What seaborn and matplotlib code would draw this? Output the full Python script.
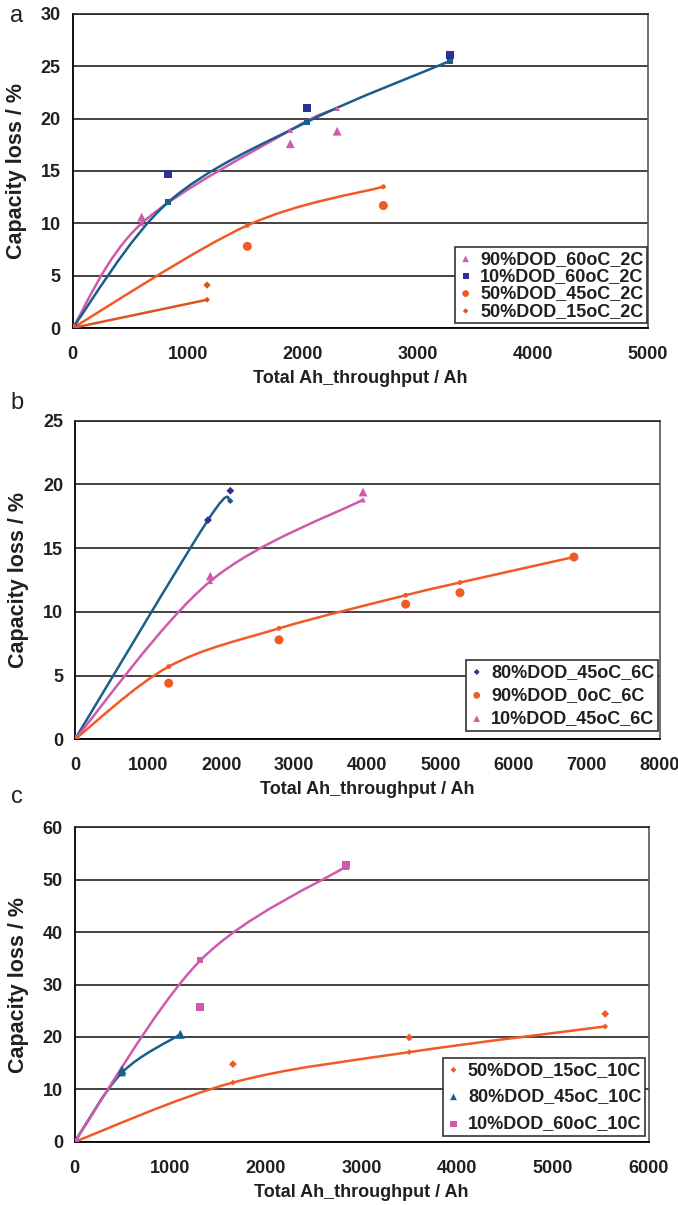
import numpy as np
import matplotlib
matplotlib.use("Agg")
import matplotlib.pyplot as plt
from matplotlib.path import Path
from matplotlib.patches import PathPatch
import seaborn as sns

# ---- panel a : 2C ----
a_90_x = [0, 600, 1893, 2300]
a_90_meas = [0, 10.6, 17.6, 18.8]
a_90_model = [0, 10.0, 18.9, 21.0]

a_10_x = [0, 829, 2041, 3280]
a_10_meas = [0, 14.7, 21.0, 26.1]
a_10_model = [0, 12.0, 19.7, 25.5]

a_45_x = [0, 1519, 2702]
a_45_meas = [0, 7.8, 11.7]
a_45_model = [0, 9.8, 13.5]

a_15_x = [0, 1169]
a_15_meas = [0, 4.1]
a_15_model = [0, 2.7]

# ---- panel b : 6C ----
b_80_x = [0, 1819, 2125]
b_80_meas = [0, 17.2, 19.5]
b_80_model = [0, 17.2, 18.7]

b_0_x = [0, 1282, 2791, 4524, 5267, 6826]
b_0_meas = [0, 4.4, 7.8, 10.6, 11.5, 14.3]
b_0_model = [0, 5.7, 8.7, 11.3, 12.3, 14.3]

b_10_x = [0, 1851, 3940]
b_10_meas = [0, 12.8, 19.4]
b_10_model = [0, 12.4, 18.8]

# ---- panel c : 10C ----
c_15_x = [0, 1654, 3497, 5545]
c_15_meas = [0, 14.8, 19.9, 24.4]
c_15_model = [0, 11.3, 17.1, 22.0]

c_80_x = [0, 494, 1104]
c_80_meas = [0, 13.7, 20.5]
c_80_model = [0, 13.2, 20.5]

c_10_x = [0, 1313, 2832]
c_10_meas = [0, 25.8, 52.8]
c_10_model = [0, 34.6, 52.5]

PINK = "#CF5AAB"
NAVY = "#2E3192"
TEAL = "#1A5E8C"
ORANGE = "#F15A24"
DORANGE = "#D9561F"
TXT = "#231F20"


def smooth_path(xs, ys):
    # excel style smoothed line as cubic bezier segments
    pts = np.column_stack([xs, ys]).astype(float)
    n = len(pts)
    verts = [pts[0]]
    codes = [Path.MOVETO]
    for i in range(n - 1):
        p0 = pts[i - 1] if i > 0 else pts[i]
        p3 = pts[i + 2] if i + 2 < n else pts[i + 1]
        c1 = pts[i] + (pts[i + 1] - p0) / 6
        c2 = pts[i + 1] - (p3 - pts[i]) / 6
        verts += [c1, c2, pts[i + 1]]
        codes += [Path.CURVE4] * 3
    return Path(verts, codes)


def series(ax, x, meas, model, marker, mcol, lcol, label, s_meas, s_model):
    ax.add_patch(PathPatch(smooth_path(x, model), fill=False, edgecolor=lcol,
                           linewidth=1.8, zorder=3))
    sns.scatterplot(x=x, y=model, marker=marker, color=lcol, s=s_model,
                    edgecolor="none", ax=ax, zorder=4)
    sns.scatterplot(x=x, y=meas, marker=marker, color=mcol, s=s_meas,
                    edgecolor="none", ax=ax, label=label, zorder=5)


def style_axes(ax, xmax, xstep, ymax, ystep):
    ax.set_xlim(0, xmax)
    ax.set_ylim(0, ymax)
    ax.set_xticks(np.arange(0, xmax + 1, xstep))
    ax.set_yticks(np.arange(0, ymax + 1, ystep))
    ax.grid(axis="y", color="#222222", linewidth=1.2)
    ax.grid(axis="x", visible=False)
    ax.set_axisbelow(True)
    for sp in ["left", "bottom"]:
        ax.spines[sp].set_color("black")
        ax.spines[sp].set_linewidth(1.3)
    ax.spines["top"].set_color("#222222")
    ax.spines["top"].set_linewidth(1.2)
    ax.spines["right"].set_color("#555555")
    ax.spines["right"].set_linewidth(1.2)
    ax.tick_params(axis="both", direction="out", length=5.5, width=1.2,
                   labelsize=13, color="black")
    ax.tick_params(axis="x", pad=7.5)
    ax.tick_params(axis="y", pad=3)
    for lab in ax.get_xticklabels() + ax.get_yticklabels():
        lab.set_fontweight("bold")
        lab.set_color(TXT)
    ax.set_xlabel("Total Ah_throughput / Ah", fontsize=13, fontweight="bold",
                  color=TXT, labelpad=5)
    ax.set_ylabel("Capacity loss / %", fontsize=15.5, fontweight="bold",
                  color=TXT)
    ax.yaxis.set_label_coords(-0.079, 0.5)


def legend(ax, anchor, spacing):
    leg = ax.legend(loc="lower right", bbox_to_anchor=anchor, borderaxespad=0,
                    frameon=True, fancybox=False, handlelength=0.8,
                    handletextpad=0.4, labelspacing=spacing, borderpad=0.2,
                    markerscale=0.75, prop={"weight": "bold", "size": 13})
    leg.get_frame().set_edgecolor("#333333")
    leg.get_frame().set_linewidth(1.2)
    leg.get_frame().set_alpha(1)
    for t in leg.get_texts():
        t.set_color(TXT)


sns.set_style("white")
plt.rcParams["font.family"] = ["Liberation Sans", "DejaVu Sans"]

fig = plt.figure(figsize=(6.78, 12.05), dpi=100)
ax_a = fig.add_axes([0.1071, 0.7278, 0.8481, 0.2606])
ax_b = fig.add_axes([0.1106, 0.3865, 0.8625, 0.2644])
ax_c = fig.add_axes([0.1102, 0.0525, 0.8466, 0.2609])

# panel a
series(ax_a, a_90_x, a_90_meas, a_90_model, "^", PINK, PINK, "90%DOD_60oC_2C", 40, 16)
series(ax_a, a_10_x, a_10_meas, a_10_model, "s", NAVY, TEAL, "10%DOD_60oC_2C", 34, 18)
series(ax_a, a_45_x, a_45_meas, a_45_model, "o", ORANGE, ORANGE, "50%DOD_45oC_2C", 42, 12)
series(ax_a, a_15_x, a_15_meas, a_15_model, "D", DORANGE, DORANGE, "50%DOD_15oC_2C", 14, 9)
style_axes(ax_a, 5000, 1000, 30, 5)
legend(ax_a, (0.999, 0.015), 0.02)

# panel b
series(ax_b, b_80_x, b_80_meas, b_80_model, "D", NAVY, TEAL, "80%DOD_45oC_6C", 16, 10)
series(ax_b, b_0_x, b_0_meas, b_0_model, "o", ORANGE, ORANGE, "90%DOD_0oC_6C", 42, 12)
series(ax_b, b_10_x, b_10_meas, b_10_model, "^", PINK, PINK, "10%DOD_45oC_6C", 40, 16)
style_axes(ax_b, 8000, 1000, 25, 5)
legend(ax_b, (0.997, 0.026), 0.35)

# panel c
series(ax_c, c_15_x, c_15_meas, c_15_model, "D", ORANGE, ORANGE, "50%DOD_15oC_10C", 16, 9)
series(ax_c, c_80_x, c_80_meas, c_80_model, "^", TEAL, TEAL, "80%DOD_45oC_10C", 42, 30)
series(ax_c, c_10_x, c_10_meas, c_10_model, "s", PINK, PINK, "10%DOD_60oC_10C", 34, 18)
style_axes(ax_c, 6000, 1000, 60, 10)
legend(ax_c, (0.9936, 0.018), 0.55)

fig.text(0.025, 0.987, "a", fontsize=17, va="center", ha="center", color=TXT)
fig.text(0.025, 0.6656, "b", fontsize=17, va="center", ha="center", color=TXT)
fig.text(0.025, 0.3386, "c", fontsize=17, va="center", ha="center", color=TXT)

fig.savefig("out.png", dpi=100)
